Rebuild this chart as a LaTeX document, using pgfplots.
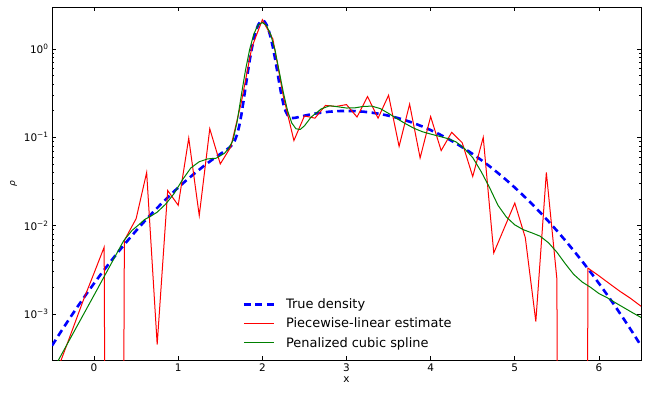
\documentclass[border=0pt]{standalone}
\usepackage{fontspec}
\setmainfont{DejaVu Sans}
\usepackage{pgfplots}
\pgfplotsset{compat=1.18}

\definecolor{mplblue}{RGB}{0,0,255}
\definecolor{mplred}{RGB}{255,0,0}
\definecolor{mplgreen}{RGB}{0,128,0}

\begin{document}
\begin{tikzpicture}
\begin{axis}[
    scale only axis,
    width=589bp, height=353bp,
    xmin=-0.5, xmax=6.5,
    ymode=log, ymin=3e-4, ymax=3,
    xtick={0,1,2,3,4,5,6},
    xticklabels={0,1,2,3,4,5,6},
    ytick={1e-3,1e-2,1e-1,1},
    yticklabels={10\textsuperscript{−3},10\textsuperscript{−2},10\textsuperscript{−1},10\textsuperscript{0}},
    tick align=inside,
    major tick length=4bp, minor tick length=2bp,
    tick style={black, line width=0.6bp},
    axis line style={black, line width=0.9bp},
    ticklabel style={font=\fontsize{10.5}{12}\selectfont},
    xlabel={x}, ylabel={\itshape ρ},
    xlabel style={font=\fontsize{10.5}{12}\selectfont, yshift=1.5bp},
    ylabel style={font=\fontsize{9}{10}\selectfont},
    legend style={draw=none, fill=none, at={(0.318,0.186)}, anchor=north west,
        font=\fontsize{13}{15}\selectfont, row sep=4bp,
        /tikz/every odd column/.append style={column sep=9bp}},
    legend cell align=left,
    legend image code/.code={\draw[#1] (0bp,0bp) -- (30bp,0bp);},
]
% true density
\addplot[mplblue, line width=2.6bp, dash pattern=on 7bp off 4.5bp] coordinates {
(-0.5,0.000436) (-0.4,0.000616) (-0.3,0.000861) (-0.2,0.001192) (-0.1,0.001633)
(0,0.002216) (0.1,0.002976) (0.2,0.003958) (0.3,0.005210) (0.4,0.006791)
(0.5,0.008764) (0.6,0.011197) (0.7,0.014163) (0.8,0.017737) (0.9,0.021992)
(1.0,0.026995) (1.1,0.032808) (1.2,0.039475) (1.3,0.047025) (1.4,0.055460)
(1.5,0.064765) (1.55,0.069796) (1.6,0.075533) (1.625,0.079275) (1.65,0.084556)
(1.675,0.093067) (1.7,0.107844) (1.725,0.133969) (1.75,0.178966) (1.775,0.252894)
(1.8,0.367043) (1.825,0.531410) (1.85,0.750547) (1.875,1.019169) (1.9,1.318775)
(1.925,1.617623) (1.95,1.875272) (1.975,2.051296) (2.0,2.115695) (2.025,2.057344)
(2.05,1.887359) (2.075,1.635736) (2.1,1.342892) (2.125,1.049262) (2.15,0.786571)
(2.175,0.573328) (2.2,0.414795) (2.225,0.306431) (2.25,0.238212) (2.275,0.198856)
(2.3,0.178286) (2.325,0.168987) (2.35,0.165846) (2.375,0.165844) (2.4,0.167281)
(2.45,0.171551) (2.5,0.176034) (2.6,0.184134) (2.7,0.190693) (2.8,0.195520)
(2.9,0.198475) (3.0,0.199471) (3.1,0.198475) (3.2,0.195520) (3.3,0.190693)
(3.4,0.184134) (3.5,0.176034) (3.6,0.166612) (3.7,0.156127) (3.8,0.144845)
(3.9,0.133042) (4.0,0.120985) (4.1,0.108925) (4.2,0.097093) (4.3,0.085685)
(4.4,0.074864) (4.5,0.064758) (4.6,0.055460) (4.7,0.047025) (4.8,0.039475)
(4.9,0.032808) (5.0,0.026995) (5.1,0.021992) (5.2,0.017737) (5.3,0.014163)
(5.4,0.011197) (5.5,0.008764) (5.6,0.006791) (5.7,0.005210) (5.8,0.003958)
(5.9,0.002976) (6.0,0.002216) (6.1,0.001633) (6.2,0.001192) (6.3,0.000861)
(6.4,0.000616) (6.5,0.000436)
};
\addlegendentry{True density}
% piecewise-linear estimate (zero values sit far below the axis)
\addplot[mplred, line width=1bp] coordinates {
(-0.5,0.00016) (-0.375,0.00033) (-0.25,0.00069) (-0.125,0.00145) (0,0.0029)
(0.12,0.0057) (0.24,1e-30) (0.36,0.0068) (0.5,0.012) (0.625,0.040)
(0.75,0.00045) (0.875,0.025) (1.0,0.017) (1.125,0.098) (1.25,0.013)
(1.375,0.125) (1.5,0.050) (1.625,0.078) (1.75,0.25) (1.875,1.05)
(2.0,2.15) (2.125,1.3) (2.25,0.29) (2.375,0.092) (2.5,0.175)
(2.625,0.165) (2.75,0.23) (2.875,0.224) (3.0,0.235) (3.125,0.17)
(3.25,0.29) (3.375,0.165) (3.5,0.30) (3.625,0.079) (3.75,0.238)
(3.875,0.0585) (4.0,0.172) (4.125,0.0708) (4.25,0.114) (4.375,0.087)
(4.5,0.036) (4.625,0.10) (4.75,0.0049) (4.875,0.0094) (5.0,0.018)
(5.125,0.0073) (5.25,0.00082) (5.375,0.040) (5.5,0.0025) (5.625,1e-30)
(5.75,1e-30) (5.87,0.0033) (6.0,0.0027) (6.125,0.0022) (6.25,0.0018)
(6.375,0.0015) (6.5,0.00122)
};
\addlegendentry{Piecewise-linear estimate}
% penalized cubic spline
\addplot[mplgreen, line width=1bp] coordinates {
(-0.5,0.00022) (-0.25,0.00060) (0,0.00163) (0.25,0.00447) (0.35,0.0067)
(0.45,0.0088) (0.54,0.0104) (0.6,0.0117) (0.68,0.0129) (0.75,0.0142)
(0.85,0.0175) (0.95,0.023) (1.05,0.033) (1.15,0.045) (1.25,0.053)
(1.35,0.057) (1.45,0.058) (1.55,0.066) (1.6,0.075) (1.65,0.092)
(1.7,0.15) (1.75,0.30) (1.8,0.58) (1.85,1.0) (1.9,1.5)
(1.95,1.88) (2.0,2.0) (2.05,1.85) (2.1,1.45) (2.15,0.98)
(2.2,0.56) (2.25,0.32) (2.3,0.20) (2.35,0.145) (2.4,0.125)
(2.45,0.123) (2.5,0.135) (2.58,0.17) (2.7,0.21) (2.8,0.228)
(2.9,0.222) (3.0,0.215) (3.1,0.216) (3.2,0.224) (3.3,0.226)
(3.4,0.212) (3.5,0.187) (3.6,0.163) (3.7,0.143) (3.8,0.127)
(3.9,0.116) (4.0,0.109) (4.1,0.103) (4.2,0.097) (4.3,0.089)
(4.4,0.075) (4.5,0.059) (4.6,0.041) (4.7,0.027) (4.8,0.017)
(4.9,0.0125) (5.0,0.0102) (5.1,0.0090) (5.2,0.0083) (5.3,0.0076)
(5.4,0.0064) (5.5,0.0050) (5.6,0.0037) (5.7,0.0028) (5.8,0.0023)
(5.9,0.0020) (6.0,0.0017) (6.1,0.00152) (6.2,0.00133) (6.3,0.00117)
(6.4,0.00103) (6.5,0.00091)
};
\addlegendentry{Penalized cubic spline}
\end{axis}
\path (current axis.south west) ++(-52bp,-32bp);
\path (current axis.north east) ++(13bp,7bp);
\end{tikzpicture}
\end{document}
